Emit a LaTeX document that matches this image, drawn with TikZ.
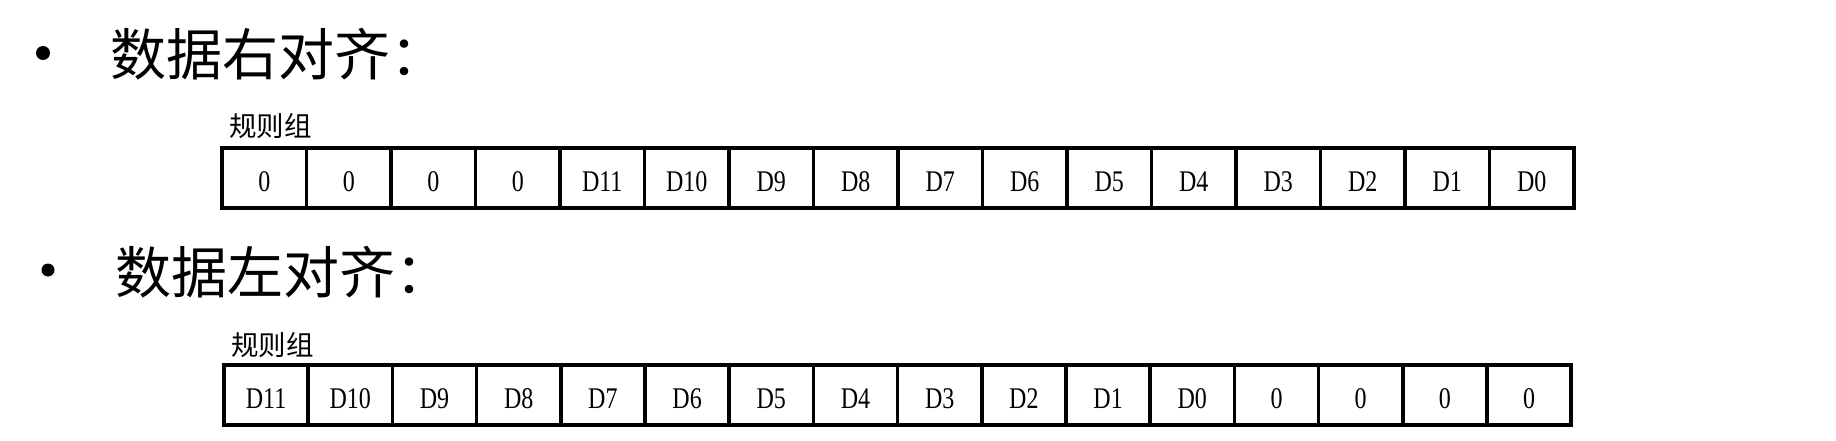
\documentclass[tikz,border=0pt]{standalone}
\usepackage{fontspec}
\setmainfont{Liberation Serif}
\newfontfamily\cjk{Noto Sans CJK SC}
\newfontfamily\cellfont[FakeStretch=0.8]{Liberation Serif}
\begin{document}
\begin{tikzpicture}[x=1pt,y=-1pt,
  cell/.style={draw, line width=3.5pt, minimum width=84.5pt, minimum height=60pt,
    inner sep=0pt, outer sep=0pt, anchor=north west,
    font=\cellfont\fontsize{30}{30}\selectfont, text height=27pt, text depth=0pt},
  heading/.style={anchor=base west, inner sep=0pt, font=\cjk\fontsize{56}{56}\selectfont},
  grouplabel/.style={anchor=base west, inner sep=0pt, font=\cjk\fontsize{27.5}{27.5}\selectfont},
  bullet/.style={circle, fill=black, minimum size=14pt, inner sep=0pt}]
\fill[white] (0,0) rectangle (1836,441);
\useasboundingbox (0,0) rectangle (1836,441);

\node[bullet] (b1) at (43,53) {};
\node[heading] (h1) at (110,76) {数据右对齐：};
\node[grouplabel] (l1) at (229,137) {规则组};
\foreach \t [count=\i from 0] in {0,0,0,0,D11,D10,D9,D8,D7,D6,D5,D4,D3,D2,D1,D0}
  \node[cell] (c\i) at ({222+\i*84.5},148) {\t};

\node[bullet, minimum size=13pt] (b2) at (48,270) {};
\node[heading] (h2) at (115,293) {数据左对齐：};
\node[grouplabel] (l2) at (231,355) {规则组};
\foreach \t [count=\i from 0] in {D11,D10,D9,D8,D7,D6,D5,D4,D3,D2,D1,D0,0,0,0,0}
  \node[cell, minimum width=84.2pt] (d\i) at ({224+\i*84.2},365) {\t};
\end{tikzpicture}
\end{document}
